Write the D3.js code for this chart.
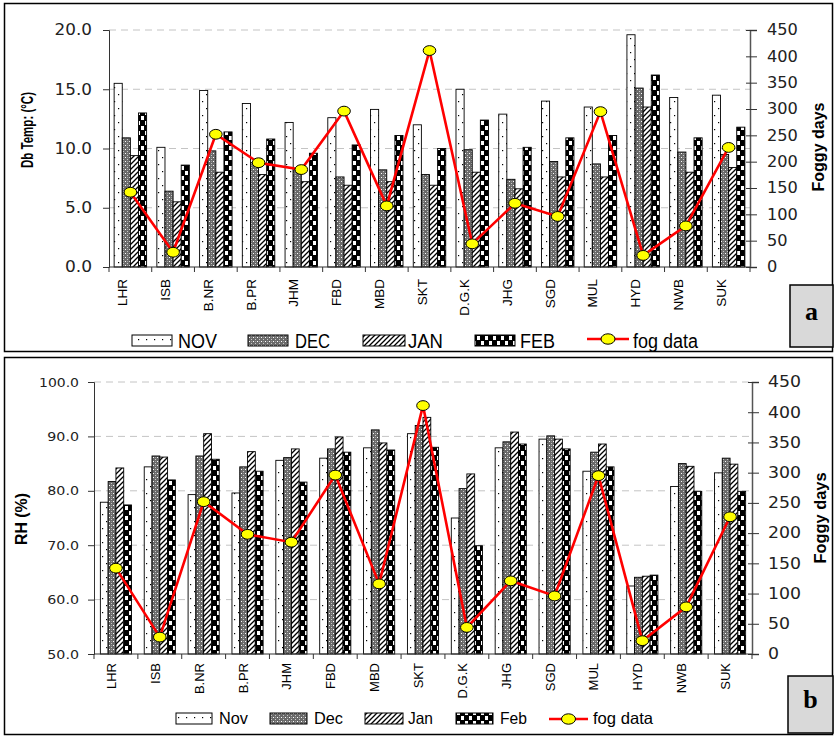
<!DOCTYPE html>
<html><head><meta charset="utf-8">
<script src="https://cdn.jsdelivr.net/npm/d3@7"></script>
<style>body{margin:0;background:#fff} svg{display:block}</style>
</head><body><svg id="c" width="835" height="736"></svg>
<script>
// ---------- DATA ----------
const categories = ["LHR","ISB","B.NR","B.PR","JHM","FBD","MBD","SKT","D.G.K","JHG","SGD","MUL","HYD","NWB","SUK"];
const tempNov = [15.5,10.1,14.9,13.8,12.2,12.6,13.3,12.0,15.0,12.9,14.0,13.5,19.6,14.3,14.5];
const tempDec = [10.9,6.4,9.8,8.8,8.3,7.6,8.2,7.8,9.9,7.4,8.9,8.7,15.1,9.7,9.5];
const tempJan = [9.4,5.5,8.0,7.8,7.2,6.9,7.2,6.9,8.0,6.6,7.6,7.6,13.5,8.0,8.4];
const tempFeb = [13.0,8.6,11.4,10.8,9.6,10.3,11.1,10.0,12.4,10.1,10.9,11.1,16.2,10.9,11.8];
const rhNov = [77.9,84.4,79.3,79.6,85.6,86.0,87.9,90.5,75.0,87.9,89.5,83.6,62.5,80.8,83.3];
const rhDec = [81.7,86.4,86.4,84.4,86.1,87.7,91.2,92.0,80.4,89.0,90.1,87.1,64.1,85.0,86.0];
const rhJan = [84.2,86.2,90.5,87.2,87.7,89.9,88.8,93.5,83.1,90.8,89.5,88.6,64.3,84.5,84.9];
const rhFeb = [77.4,82.0,85.8,83.6,81.6,87.1,87.5,88.0,69.9,88.6,87.7,84.4,64.5,79.9,79.9];
const fogDays = [142,28,252,198,185,296,116,411,44,121,96,295,22,78,227];
const tempTicks = [0,5,10,15,20];
const rhTicks = [50,60,70,80,90,100];
const fogTicks = [0,50,100,150,200,250,300,350,400,450];
const legendTop = ["NOV","DEC","JAN","FEB","fog data"];
const legendBottom = ["Nov","Dec","Jan","Feb","fog data"];

// ---------- SETUP ----------
const svg = d3.select("#c");
const defs = svg.append("defs");
function pat(id,w,h,draw){
  const p = defs.append("pattern").attr("id",id).attr("patternUnits","userSpaceOnUse")
    .attr("width",w).attr("height",h);
  draw(p);
}
pat("pNov",8,14,p=>{
  p.append("rect").attr("width",8).attr("height",14).attr("fill","#fff");
  p.append("rect").attr("x",2).attr("y",3).attr("width",1.2).attr("height",1.2).attr("fill","#000");
  p.append("rect").attr("x",6).attr("y",10).attr("width",1.2).attr("height",1.2).attr("fill","#000");
});
pat("pDec",4,4,p=>{
  p.append("rect").attr("width",4).attr("height",4).attr("fill","#6a6a6a");
  p.append("rect").attr("x",1).attr("y",1).attr("width",1).attr("height",1).attr("fill","#fff");
  p.append("rect").attr("x",3).attr("y",3).attr("width",1).attr("height",1).attr("fill","#c8c8c8");
  p.append("rect").attr("x",3).attr("y",1).attr("width",1).attr("height",1).attr("fill","#9a9a9a");
});
pat("pJan",5,5,p=>{
  p.append("rect").attr("width",5).attr("height",5).attr("fill","#fff");
  p.append("path").attr("d","M0,5L5,0M-1,1L1,-1M4,6L6,4").attr("stroke","#000").attr("stroke-width",1.3);
});
pat("pFeb",8,10,p=>{
  p.append("rect").attr("width",8).attr("height",10).attr("fill","#000");
  p.append("rect").attr("x",1).attr("y",1).attr("width",3).attr("height",4).attr("fill","#fff");
  p.append("rect").attr("x",5).attr("y",6).attr("width",3).attr("height",4).attr("fill","#fff");
});
const fills = ["url(#pNov)","url(#pDec)","url(#pJan)","url(#pFeb)"];

function tl(s,dw,pw){ let n=0; for(const c of s) n += (c==="."?pw:dw); return n; }

function drawPanel(cfg){
  const g = svg.append("g");
  const x = d3.scaleBand().domain(categories).range([cfg.x0,cfg.x1])
      .paddingInner(cfg.pi).paddingOuter(cfg.po);
  const step = (cfg.x1-cfg.x0)/categories.length;
  const xs = d3.scaleBand().domain(d3.range(4)).range([0,x.bandwidth()]);
  const y = d3.scaleLinear().domain(cfg.yDomain).range([cfg.yBot,cfg.yTop]);
  const yr = d3.scaleLinear().domain([0,450]).range([cfg.yBot,cfg.yTop]);

  // grid
  g.append("g").selectAll("line").data(cfg.yTicks.slice(1)).join("line")
    .attr("x1",cfg.x0).attr("x2",cfg.x1).attr("y1",d=>y(d)).attr("y2",d=>y(d))
    .attr("stroke","#c4c4c4").attr("stroke-width",1).attr("stroke-dasharray","7,5");

  // bars
  cfg.series.forEach((vals,si)=>{
    g.append("g").selectAll("rect").data(vals).join("rect")
      .attr("x",(d,i)=>x(categories[i])+xs(si))
      .attr("y",d=>y(d))
      .attr("width",xs.bandwidth())
      .attr("height",d=>cfg.yBot-y(d))
      .attr("fill",fills[si]).attr("stroke","#000").attr("stroke-width",0.9);
  });

  // left axis
  const la = g.append("g").attr("transform",`translate(${cfg.x0},0)`)
    .call(d3.axisLeft(y).tickValues(cfg.yTicks).tickFormat(d3.format(".1f")).tickSize(6).tickPadding(cfg.lpad));
  la.select(".domain").attr("stroke","#333");
  la.selectAll(".tick line").attr("stroke","#333");
  la.selectAll("text").attr("font-family","DejaVu Sans").attr("font-size",cfg.lfs).attr("fill","#222")
    .attr("textLength",function(){return tl(this.textContent,cfg.ldw,cfg.lpw);}).attr("lengthAdjust","spacingAndGlyphs");

  // right axis
  const ra = g.append("g").attr("transform",`translate(${cfg.x1},0)`)
    .call(d3.axisRight(yr).tickValues(fogTicks).tickFormat(d3.format("d")).tickSize(7).tickPadding(cfg.rpad));
  ra.select(".domain").attr("stroke","#555").attr("stroke-width",1.5);
  ra.selectAll(".tick line").attr("x1",-4).attr("stroke","#333");
  ra.selectAll("text").attr("font-family","DejaVu Sans").attr("font-size",cfg.rfs).attr("fill","#222")
    .attr("textLength",function(){return tl(this.textContent,cfg.rdw,cfg.rdw);}).attr("lengthAdjust","spacingAndGlyphs");

  // category axis
  g.append("line").attr("x1",cfg.x0).attr("x2",cfg.x1).attr("y1",cfg.yBot).attr("y2",cfg.yBot)
    .attr("stroke","#333").attr("stroke-width",1.2);
  g.append("g").selectAll("line").data(d3.range(categories.length+1)).join("line")
    .attr("x1",i=>cfg.x0+i*step).attr("x2",i=>cfg.x0+i*step)
    .attr("y1",cfg.yBot).attr("y2",cfg.yBot+5).attr("stroke","#333");
  g.append("g").selectAll("text").data(categories).join("text")
    .attr("transform",d=>`translate(${x(d)+x.bandwidth()/2+cfg.cdx},${cfg.labelY}) rotate(-90)`)
    .attr("text-anchor","end").attr("font-family","Liberation Sans, Arial, sans-serif")
    .attr("font-size",cfg.cfs).attr("fill","#000").text(d=>d);

  // fog line
  const cx = (d,i)=>x(categories[i])+x.bandwidth()/2;
  g.append("path").datum(fogDays)
    .attr("d",d3.line().x(cx).y(d=>yr(d)))
    .attr("fill","none").attr("stroke","#ff0000").attr("stroke-width",2.6);
  g.append("g").selectAll("ellipse").data(fogDays).join("ellipse")
    .attr("cx",cx).attr("cy",d=>yr(d)).attr("rx",6.3).attr("ry",4.9)
    .attr("fill","#ffff00").attr("stroke","#000").attr("stroke-width",1);

  // axis titles
  g.append("text").attr("transform",`translate(${cfg.ltx},${cfg.lty}) rotate(-90)`)
    .attr("text-anchor","middle").attr("font-family","Liberation Sans, Arial, sans-serif")
    .attr("font-weight","bold").attr("font-size",cfg.ltfs).attr("textLength",cfg.ltlen)
    .attr("lengthAdjust","spacingAndGlyphs").text(cfg.ltitle);
  g.append("text").attr("transform",`translate(${cfg.rtx},${cfg.rty}) rotate(-90)`)
    .attr("text-anchor","middle").attr("font-family","Liberation Sans, Arial, sans-serif")
    .attr("font-weight","bold").attr("font-size",16).attr("textLength",cfg.rtlen)
    .attr("lengthAdjust","spacingAndGlyphs").text("Foggy days");

  // legend
  const L = cfg.legend;
  L.sw.forEach((s,i)=>{
    g.append("rect").attr("x",s[0]).attr("y",L.sy).attr("width",s[1]).attr("height",L.sh)
      .attr("fill",fills[i]).attr("stroke","#000").attr("stroke-width",1);
  });
  L.tx.forEach((t,i)=>{
    g.append("text").attr("x",t[0]).attr("y",L.base).attr("font-family","Liberation Sans, Arial, sans-serif")
      .attr("font-size",L.fs).attr("textLength",t[1]).attr("lengthAdjust","spacingAndGlyphs")
      .text(cfg.legendNames[i]);
  });
  g.append("line").attr("x1",L.line[0]).attr("x2",L.line[1]).attr("y1",L.ly).attr("y2",L.ly)
    .attr("stroke","#ff0000").attr("stroke-width",2.6);
  g.append("ellipse").attr("cx",(L.line[0]+L.line[1])/2).attr("cy",L.ly).attr("rx",7).attr("ry",5.2)
    .attr("fill","#ffff00").attr("stroke","#000");

  // panel border and tag box
  g.append("rect").attr("x",cfg.box[0]).attr("y",cfg.box[1]).attr("width",cfg.box[2]).attr("height",cfg.box[3])
    .attr("fill","none").attr("stroke","#000").attr("stroke-width",1.5);
  g.append("rect").attr("x",cfg.tag[0]).attr("y",cfg.tag[1]).attr("width",cfg.tag[2]).attr("height",cfg.tag[3])
    .attr("fill","#d9d9d9").attr("stroke","#000").attr("stroke-width",1.5);
  g.append("text").attr("x",cfg.tag[0]+cfg.tag[2]/2).attr("y",cfg.tagBase).attr("text-anchor","middle")
    .attr("font-family","Liberation Serif, Times New Roman, serif").attr("font-weight","bold")
    .attr("font-size",26).text(cfg.tagText);
}

drawPanel({
  x0:109, x1:750, yTop:30, yBot:267, yDomain:[0,20], yTicks:tempTicks, pi:0.24, po:0.12,
  series:[tempNov,tempDec,tempJan,tempFeb],
  lpad:11, lfs:15, ldw:10.3, lpw:6.5, rpad:10, rfs:15, rdw:10.3,
  labelY:279, cdx:-3, cfs:13.5,
  ltitle:"Db Temp: (°C)", ltx:33, lty:130, ltfs:16, ltlen:76,
  rtx:824, rty:147, rtlen:89,
  legendNames:legendTop,
  legend:{sw:[[132,40],[248,40],[363,42],[475,40]], sy:335, sh:11, base:348, fs:20,
    tx:[[178,39],[295,35],[408,35],[520,35],[633,65]], line:[587,629], ly:339},
  box:[4.5,3.5,828,348], tag:[790,285,43,62], tagBase:320, tagText:"a"
});

drawPanel({
  x0:94, x1:752, yTop:382, yBot:654, yDomain:[50,100], yTicks:rhTicks, pi:0.29, po:0.145,
  series:[rhNov,rhDec,rhJan,rhFeb],
  lpad:9, lfs:13, ldw:8.3, lpw:6.8, rpad:9, rfs:15, rdw:11,
  labelY:663, cdx:0, cfs:13,
  ltitle:"RH (%)", ltx:27, lty:519, ltfs:16, ltlen:52,
  rtx:826, rty:518, rtlen:91,
  legendNames:legendBottom,
  legend:{sw:[[176,36],[270,37],[365,38],[456,37]], sy:713, sh:11, base:724, fs:16.5,
    tx:[[219,29],[314,29],[408,25],[500,27],[593,60]], line:[549,588], ly:719},
  box:[4.5,357.5,828,377], tag:[788,676,45,57], tagBase:708, tagText:"b"
});
</script>
</body></html>
